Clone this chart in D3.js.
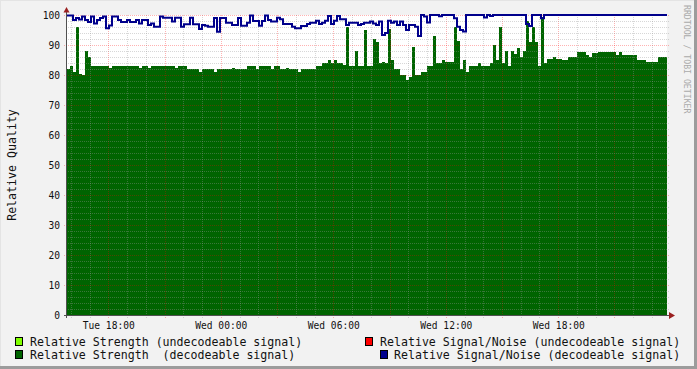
<!DOCTYPE html>
<html><head><meta charset="utf-8">
<script src="https://cdn.jsdelivr.net/npm/d3@7"></script>
<style>body{margin:0;background:#f2f2f2}svg{display:block}text{white-space:pre}</style>
</head><body><svg id="c" width="697" height="369"></svg>
<script>
// ---------- data ----------
const legendLabels = [
  "Relative Strength (undecodeable signal)",
  "Relative Strength  (decodeable signal)",
  "Relative Signal/Noise (undecodeable signal)",
  "Relative Signal/Noise (decodeable signal)"
];
const legendColors = ["#80ff00", "#006400", "#ff0000", "#00008c"];
const startTime = Date.UTC(2009, 2, 3, 15, 48); // Tue 15:48
const stepMinutes = 9.6;
const yTickValues = [0,10,20,30,40,50,60,70,80,90,100];
const axisTitle = "Relative Quality";
const watermark = "RRDTOOL / TOBI OETIKER";

const strengthDecodeable = [
  82,83,81,96,80.5,80,88,86,83,83,
  83,83,83,83,82.5,83,83,83,83,83,
  83,83,83,83,82.5,83,83,82.5,83,83,
  83,83,83,83,83,83,82.5,83,83,83,
  82,82,82,82,81,82,82,82,82,81,
  82,82,82,82,82,82.5,82,82,82,82,
  83,83,83,82,83,83,83,83,82,83,
  83,82,82,82.5,82,82,82,81,82,82,
  82,82,82,83,83,84,84,85,84,85,
  84,84,83.5,96,83,83,88,83,83,95,
  83,83,92,91,84,84.5,84,95.5,85,82,
  82,80,80,78.5,79.5,89.5,80,80,81,81,
  83,83,93,84,84,85,84.5,84.5,84.5,96,
  91.5,82,85,81,83,83,83,84,83,83,
  83,84,90,85,96,84,88,83,88,87,
  89,86,88,98,91,96,91,83,99.5,84,
  85.5,85.5,86,85.5,85.5,85,85,86,86,86,
  87.8,87.8,87.8,86.7,86,87.2,87.2,87.6,87.6,87.6,
  87.6,87.6,87.6,86.7,87.8,86.7,86.7,86.7,86.7,86.7,
  85,85,85,84.4,84.4,84.4,84.4,85.9,85.9,85.9
];
const snrDecodeable = [
  99.8,99.8,98.3,99,98.5,99.5,98.3,97.7,99.5,97.2,
  98.3,99,99.5,95.6,96.5,99.5,99.5,98.3,97.7,97.7,
  98.3,97.7,97.7,98.3,97.2,98.3,98.3,96.7,97.2,96.1,
  96.1,99.5,99.1,99.1,99.1,97.8,99.1,99.1,96.1,96.9,
  96.9,99.1,96.9,96.9,95.3,96.7,96.4,96.1,96.1,99,
  94.4,99,99,97.4,97.4,96.7,96.7,99,96.4,96.4,
  97.4,99.8,98,98,96.4,98,99.8,98.3,97.8,97.8,
  99.1,98.6,97,97,97,96.1,95.6,95.6,96.3,96.3,
  97,97.4,97.4,98.1,97,97.4,98.1,99.7,97,98.1,
  99.7,98.6,98.6,96.7,97.4,97.4,97.4,96.7,97,97.4,
  97.4,97.8,97.2,96.7,97.8,93.3,94,98.1,97.4,97.8,
  96.7,97.8,96.7,95,96.7,96.7,96.1,93,100,99.5,
  97.5,100,100,100,99.6,100,100,100,100,98.9,
  96.1,95,94.5,100,100,100,100,100,100,99.2,
  100,99.7,100,100,100,100,100,100,100,100,
  100,100,100,97,96.3,100,100,100,98.9,100,
  100,100,100,100,100,100,100,100,100,100,
  100,100,100,100,100,100,100,100,100,100,
  100,100,100,100,100,100,100,100,100,100,
  100,100,100,100,100,100,100,100,100,100
];

// ---------- layout ----------
const W = 697, H = 369;
const L = 67, R = 667, T = 15, B = 315;
const stepMs = stepMinutes * 60000;
const N = strengthDecodeable.length;
const t0 = new Date(startTime), t1 = new Date(startTime + N * stepMs);
const x = d3.scaleUtc().domain([t0, t1]).range([L, R]);
const y = d3.scaleLinear().domain([0, 100]).range([B, T]);
const toPts = arr => arr.map((v, i) => ({t: new Date(startTime + i * stepMs), v}))
  .concat([{t: t1, v: arr[arr.length - 1]}]);

const svg = d3.select("#c");
svg.append("rect").attr("width", W).attr("height", H).attr("fill", "#f2f2f2");
// frame shading
svg.append("rect").attr("x", 0).attr("y", 0).attr("width", W).attr("height", 1).attr("fill", "#e4e4e4");
svg.append("rect").attr("x", 0).attr("y", 0).attr("width", 1).attr("height", H).attr("fill", "#e4e4e4");
svg.append("rect").attr("x", W - 3).attr("y", 0).attr("width", 3).attr("height", H).attr("fill", "#9c9c9c");
svg.append("rect").attr("x", 0).attr("y", H - 3).attr("width", W).attr("height", 3).attr("fill", "#9c9c9c");

// canvas
svg.append("rect").attr("x", L).attr("y", T).attr("width", R - L).attr("height", B - T).attr("fill", "#fff");

// area
svg.append("path").datum(toPts(strengthDecodeable))
  .attr("d", d3.area().curve(d3.curveStepAfter).x(d => x(d.t)).y0(y(0)).y1(d => y(d.v)))
  .attr("fill", legendColors[1]).attr("shape-rendering", "crispEdges");

// grid
const g = svg.append("g").attr("shape-rendering", "crispEdges");
const minorCol = "rgba(150,150,150,0.38)", majorCol = "rgba(255,0,0,0.3)";
const hoursAll = d3.utcHour.every(1).range(t0, t1);
hoursAll.forEach(h => {
  const major = h.getUTCHours() % 3 === 0;
  const xx = Math.round(x(h)) + 0.5;
  g.append("line").attr("x1", xx).attr("x2", xx).attr("y1", T).attr("y2", B + 3)
    .attr("stroke", major ? majorCol : minorCol).attr("stroke-dasharray", "1,1");
});
d3.range(0, 101, 2).forEach(v => {
  if (v === 0) return;
  const major = v % 10 === 0;
  const yy = Math.round(y(v)) + 0.5;
  g.append("line").attr("x1", major ? L - 3 : L - 1).attr("x2", R + 3).attr("y1", yy).attr("y2", yy)
    .attr("stroke", major ? majorCol : minorCol).attr("stroke-dasharray", "1,1");
});

// line
svg.append("path").datum(toPts(snrDecodeable))
  .attr("d", d3.line().curve(d3.curveStepAfter).x(d => x(d.t)).y(d => y(d.v)))
  .attr("fill", "none").attr("stroke", legendColors[3]).attr("stroke-width", 2);

// axes
const axCol = "#505050", arrowCol = "#9a2020";
svg.append("line").attr("x1", L - 0.5).attr("x2", L - 0.5).attr("y1", B + 3).attr("y2", 10)
  .attr("stroke", axCol).attr("shape-rendering", "crispEdges");
svg.append("line").attr("x1", L - 3).attr("x2", R + 3).attr("y1", B + 0.5).attr("y2", B + 0.5)
  .attr("stroke", axCol).attr("shape-rendering", "crispEdges");
svg.append("path").attr("d", `M${L - 3.5},12.5L${L + 2.5},12.5L${L - 0.5},7Z`).attr("fill", arrowCol);
svg.append("path").attr("d", `M${R + 2},${B - 3}L${R + 2},${B + 4}L${R + 8},${B + 0.5}Z`).attr("fill", arrowCol);

// y tick labels
const font = "DejaVu Sans Mono, monospace";
svg.append("g").selectAll("text").data(yTickValues).join("text")
  .attr("x", 60).attr("y", d => y(d) + 3.5).attr("text-anchor", "end")
  .attr("font-family", font).attr("font-size", 9.6).attr("fill", "#111").text(d => d);

// x tick labels
const fmt = d3.utcFormat("%a %H:%M");
const labelTicks = d3.utcHour.every(6).range(t0, t1);
svg.append("g").selectAll("text").data(labelTicks).join("text")
  .attr("x", d => x(d) + 0.5).attr("y", 328.5).attr("text-anchor", "middle")
  .attr("font-family", font).attr("font-size", 9.6).attr("fill", "#111").text(d => fmt(d));

// axis title
svg.append("text").attr("transform", "translate(15.5,165) rotate(-90)").attr("text-anchor", "middle")
  .attr("font-family", font).attr("font-size", 11.6).attr("fill", "#111").text(axisTitle);

// watermark
svg.append("text").attr("transform", "translate(684,5) rotate(90)").attr("text-anchor", "start")
  .attr("font-family", font).attr("font-size", 8.2).attr("fill", "#aaa").text(watermark);

// legend
const legPos = [
  {bx: 15, tx: 30, by: 337, ty: 345.5},
  {bx: 15, tx: 30, by: 350, ty: 358.5},
  {bx: 365, tx: 380, by: 337, ty: 345.5},
  {bx: 380, tx: 394, by: 350, ty: 358.5}
];
const lg = svg.append("g");
legendLabels.forEach((lab, i) => {
  const p = legPos[i];
  lg.append("rect").attr("x", p.bx + 0.5).attr("y", p.by + 0.5).attr("width", 7).attr("height", 8)
    .attr("fill", legendColors[i]).attr("stroke", "#000").attr("shape-rendering", "crispEdges");
  lg.append("text").attr("x", p.tx).attr("y", p.ty).attr("font-family", font).attr("font-size", 11.6)
    .attr("fill", "#111").text(lab);
});
</script></body></html>
